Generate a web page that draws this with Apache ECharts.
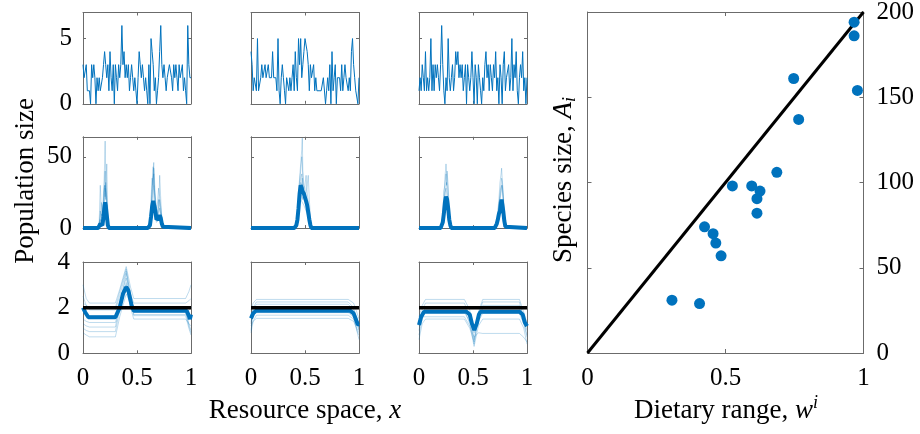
<!DOCTYPE html>
<html><head><meta charset="utf-8">
<script src="https://cdn.jsdelivr.net/npm/echarts@6/dist/echarts.min.js"></script>
<style>html,body{margin:0;padding:0;background:#fff}#c{width:920px;height:434px}</style>
</head><body><div id="c"></div>
<script>
// ---------- Row 1: single noisy population series (x = 0..1, 101 samples) ----------
const xs101 = Array.from({length:101}, (_, i) => i / 100);
const pop1a = [3,2,2,3,1,1,1,0,3,2,3,2,0,2,1,2,1,1,2,3,4,3,2,3,1,4,2,1,3,0,3,2,1,3,2,3,6,3,4,2,3,2,3,1,2,3,2,1,2,1,0,2,4,3,2,3,2,1,2,1,0,3,0,5,4,3,1,2,0,1,2,4,6,3,2,3,2,1,2,2,3,3,2,1,3,2,3,2,1,3,2,2,3,1,2,1,0,6,3,2,2];
const pop1b = [4,3,1,2,2,1,5,1,1,2,3,2,2,3,2,2,3,2,2,2,4,2,2,2,1,5,1,0,2,3,2,1,0,2,2,1,2,1,2,3,1,4,2,1,5,3,5,2,3,4,5,5,4,3,1,3,2,2,3,1,2,1,1,1,1,1,1,2,2,0,1,2,1,3,0,4,1,2,3,0,2,2,2,1,3,1,2,3,2,2,1,2,1,4,5,3,2,1,1,0,2];
const pop1c = [1,2,1,3,2,1,4,1,2,1,2,5,1,3,1,3,2,3,2,1,3,6,3,1,0,2,1,5,2,1,2,3,1,2,4,3,4,2,3,2,3,1,2,3,0,3,2,1,2,4,2,0,3,2,0,3,2,1,0,2,1,3,4,2,3,1,3,2,1,3,2,4,1,2,0,3,2,0,3,4,1,2,2,3,1,2,5,1,3,2,4,1,0,2,3,2,4,1,2,0,2];

// ---------- Row 2: peaked populations (mean + individual runs) ----------
const p1x = [0,0.14,0.15,0.16,0.17,0.18,0.19,0.2,0.205,0.21,0.22,0.23,0.24,0.25,0.6,0.61,0.62,0.63,0.64,0.65,0.655,0.66,0.67,0.68,0.69,0.7,0.71,0.72,0.73,0.74,0.75,1];
const p1mean = [0,0,1,3,3,2,8,16,18,16,9,2,0,0,0,0,2,8,15,19,20,18,12,6,5,7,9,7,3,1,0,0];
const p1runs = [
  [0,0,2,5,10,4,20,45,61,38,15,5,1,0,0,0,3,10,25,40,46,30,15,8,12,20,15,8,4,1,0,0],
  [0,0,4,30,12,6,15,25,30,20,45,10,2,0,0,1,5,20,35,30,42,38,20,10,8,12,37,20,6,2,0,0],
  [0,0,1,8,18,10,12,35,40,28,22,6,1,0,0,0,2,12,30,43,35,25,18,14,18,28,22,12,5,1,0,0],
  [0,0,0,4,6,3,10,20,28,25,12,3,0,0,0,0,1,6,12,25,30,20,10,6,5,10,14,10,3,0,0,0],
  [0,0,2,12,8,5,25,30,22,32,18,4,1,0,0,0,4,15,22,35,38,28,22,12,10,15,20,15,8,2,0,0],
  [0,0,1,6,4,2,6,12,15,12,8,2,0,0,0,0,1,5,10,15,18,15,8,4,4,6,8,5,2,0,0,0]
];
const p2x = [0,0.4,0.41,0.42,0.43,0.44,0.45,0.46,0.47,0.475,0.48,0.49,0.5,0.51,0.52,0.53,0.54,0.55,0.56,0.57,1];
const p2mean = [0,0,0,2,6,14,24,30,28,26,25,24,23,19,16,11,6,2,0,0,0];
const p2runs = [
  [0,0,1,4,12,25,35,45,55,63,40,30,28,20,15,12,8,3,1,0,0],
  [0,0,0,3,8,20,33,40,50,45,35,25,30,37,25,18,12,5,1,0,0],
  [0,0,2,5,10,18,28,35,38,30,28,22,20,25,30,37,20,8,2,0,0],
  [0,0,0,2,5,12,20,25,22,20,22,20,18,15,12,8,5,2,0,0,0],
  [0,0,1,3,7,15,25,32,30,35,30,26,24,20,18,14,10,4,1,0,0],
  [0,0,0,1,4,10,16,20,20,18,17,16,15,12,10,7,4,1,0,0,0]
];
const p3x = [0,0.2,0.21,0.22,0.23,0.24,0.25,0.255,0.26,0.27,0.28,0.29,0.3,0.31,0.7,0.71,0.72,0.73,0.74,0.75,0.76,0.765,0.77,0.78,0.79,0.8,0.81,1];
const p3mean = [0,0,1,4,10,18,22,22,20,14,6,2,0,0,0,1,3,6,10,12,18,20,19,12,5,1,0,0];
const p3runs = [
  [0,0,2,8,20,35,45,40,35,25,10,3,1,0,0,2,5,12,20,32,38,42,35,25,10,3,0,0],
  [0,0,1,5,26,30,38,30,40,30,12,4,0,0,0,1,4,8,15,25,30,35,33,20,8,2,0,0],
  [0,0,1,4,12,22,30,32,28,18,8,2,0,0,0,1,3,8,14,22,28,30,28,18,8,2,0,0],
  [0,0,0,3,8,15,20,18,16,12,5,1,0,0,0,0,2,5,10,15,18,20,16,10,4,1,0,0],
  [0,0,1,6,15,25,28,25,22,20,8,2,0,0,0,1,3,10,18,20,25,28,30,22,10,3,0,0]
];

// ---------- Row 3: flat populations (mean + runs), reference level 2 ----------
const r1mx = [0,0.02,0.05,0.3,0.34,0.37,0.4,0.42,0.45,0.47,0.96,0.98,0.99,1];
const r1mean = [2.0,1.8,1.58,1.58,2.0,2.6,2.9,2.75,2.1,1.86,1.86,1.65,1.5,1.7];
const r1x = [0,0.03,0.06,0.3,0.34,0.4,0.44,0.47,0.95,0.98,1];
const r1runs = [
  [3.0,2.4,2.2,2.2,2.8,3.8,2.9,2.4,2.4,2.7,3.0],
  [2.5,2.1,1.9,1.9,2.5,3.6,2.6,2.2,2.2,2.3,2.4],
  [1.8,1.7,1.65,1.65,2.3,3.3,2.4,2.0,2.0,1.7,1.5],
  [1.5,1.4,1.35,1.35,2.0,3.0,2.1,1.8,1.8,1.3,1.0],
  [1.3,1.2,1.15,1.15,2.1,3.5,2.3,1.65,1.65,1.1,0.8],
  [1.1,1.0,0.95,0.95,1.9,3.1,2.0,1.5,1.5,1.3,1.2],
  [0.9,0.8,0.72,0.72,1.6,2.6,2.2,1.9,1.9,1.2,0.9],
  [2.2,2.1,2.0,2.0,2.7,3.7,2.5,1.7,1.7,1.9,2.0]
];
const r2mx = [0,0.02,0.045,0.92,0.95,0.97,0.99,1];
const r2mean = [1.53,1.75,1.86,1.86,1.75,1.5,1.25,1.27];
const r2x = [0,0.02,0.05,0.9,0.95,0.98,1];
const r2runs = [
  [1.9,2.2,2.36,2.36,2.2,1.8,1.5],
  [1.6,2.0,2.25,2.25,2.0,1.5,1.2],
  [1.3,1.9,2.15,2.15,1.9,1.4,1.0],
  [1.0,1.7,2.05,2.05,1.8,1.0,0.6],
  [0.9,1.4,1.67,1.67,1.5,1.0,0.8],
  [1.2,1.4,1.53,1.53,1.4,1.1,0.9],
  [1.7,1.85,1.95,1.95,1.8,1.4,1.1],
  [1.4,1.65,1.78,1.78,1.6,1.3,1.0]
];
const r3mx = [0,0.02,0.047,0.44,0.47,0.49,0.512,0.535,0.555,0.57,0.93,0.96,0.98,1];
const r3mean = [1.24,1.6,1.82,1.82,1.7,1.3,1.02,1.3,1.7,1.82,1.82,1.7,1.35,1.19];
const r3x = [0,0.03,0.06,0.42,0.47,0.51,0.55,0.59,0.93,0.97,1];
const r3runs = [
  [1.6,2.1,2.36,2.36,1.9,0.6,1.8,2.36,2.36,1.8,1.3],
  [1.2,1.9,2.2,2.2,1.6,0.4,1.7,2.25,2.25,1.5,1.0],
  [1.0,1.7,2.0,2.0,1.5,0.9,1.4,1.75,1.75,1.3,0.7],
  [0.8,1.5,1.9,1.9,1.3,0.3,1.2,1.5,1.5,1.1,0.4],
  [1.4,1.6,1.6,1.6,1.2,0.7,0.9,0.87,0.87,0.7,0.5],
  [0.6,1.3,1.5,1.5,1.1,0.5,1.5,1.95,1.95,1.4,0.8],
  [1.5,1.8,1.8,1.8,1.4,1.0,1.6,2.1,2.1,1.6,1.2]
];
const refX = [0, 1];
const refLevel = [2, 2];

// ---------- Right panel: dietary range vs species size ----------
const dietRange = [0.966,0.966,0.978,0.747,0.765,0.686,0.525,0.595,0.625,0.614,0.614,0.424,0.455,0.465,0.484,0.306,0.406];
const speciesSize = [194,186,154,161,137,106,98,98,95,90.5,82,74,70,64.5,57,31,29];
const diagX = [0, 1];
const diagY = [0, 200];

// tick labels
const xTickLabels = [0, 0.5, 1];
const yTicksRow1 = [0, 5];
const yTicksRow2 = [0, 50];
const yTicksRow3 = [0, 2, 4];
const yTicksRight = [0, 50, 100, 150, 200];

// ---------- layout / style ----------
const FONT = "'Liberation Serif','Times New Roman',serif";
const FS = 25, FSL = 27;
const AX = '#6b6b6b';
const BLUE = '#0072BD';
const LIGHT = 'rgba(0,114,189,0.25)';
const colL = [83, 251, 419], W = 108;
const rowT = [12.5, 136.8, 262], H = 91.3;

const grids = [], xAxes = [], yAxes = [], series = [];
function zip(xa, ya) { return xa.map((x, i) => [x, ya[i]]); }
function addPanel(box, xr, yr, o) {
  const gi = grids.length;
  grids.push({left: box[0], top: box[1], width: box[2], height: box[3], containLabel: false, outerBoundsMode: 'none'});
  const tick = {show: true, inside: true, length: o.tick, lineStyle: {color: AX, width: 1}};
  const line = {show: true, onZero: false, lineStyle: {color: AX, width: 1}};
  const lab = (show, vals) => ({show: show, margin: o.margin, color: '#000', fontFamily: FONT, fontSize: FS,
    showMinLabel: true, showMaxLabel: true,
    formatter: v => (vals.some(t => Math.abs(t - v) < 1e-9) ? String(v) : '')});
  const base = {gridIndex: gi, type: 'value', splitLine: {show: false}, axisLine: line, axisTick: tick};
  xAxes.push(Object.assign({}, base, {position: 'bottom', min: xr[0], max: xr[1], interval: xr[2], axisLabel: lab(o.xl, xTickLabels)}));
  xAxes.push(Object.assign({}, base, {position: 'top', min: xr[0], max: xr[1], interval: xr[2], axisLabel: {show: false}}));
  yAxes.push(Object.assign({}, base, {position: 'left', min: yr[0], max: yr[1], interval: yr[2], axisLabel: lab(o.yl, o.yvals)}));
  yAxes.push(Object.assign({}, base, {position: 'right', min: yr[0], max: yr[1], interval: yr[2], axisLabel: lab(o.yr, o.yvals)}));
  return {x: xAxes.length - 2, y: yAxes.length - 2};
}
function line(ax, data, color, width) {
  series.push({type: 'line', xAxisIndex: ax.x, yAxisIndex: ax.y, data: data, symbol: 'none', showSymbol: false,
    silent: true, clip: true, lineStyle: {color: color, width: width}, z: 2});
}

// Row 1
[pop1a, pop1b, pop1c].forEach((p, c) => {
  const ax = addPanel([colL[c], rowT[0], W, H], [0, 1, 0.5], [0, 7, 5], {tick: 3, margin: 11, xl: false, yl: c === 0, yr: false, yvals: yTicksRow1});
  line(ax, zip(xs101, p), BLUE, 1);
});
// Row 2
[[p1x, p1mean, p1runs], [p2x, p2mean, p2runs], [p3x, p3mean, p3runs]].forEach((d, c) => {
  const ax = addPanel([colL[c], rowT[1], W, H], [0, 1, 0.5], [0, 64, 50], {tick: 3, margin: 11, xl: false, yl: c === 0, yr: false, yvals: yTicksRow2});
  d[2].forEach(r => line(ax, zip(d[0], r), LIGHT, 1));
  line(ax, zip(d[0], d[1]), BLUE, 4);
});
// Row 3
[[r1mx, r1mean, r1x, r1runs], [r2mx, r2mean, r2x, r2runs], [r3mx, r3mean, r3x, r3runs]].forEach((d, c) => {
  const ax = addPanel([colL[c], rowT[2], W, H], [0, 1, 0.5], [0, 4, 2], {tick: 3, margin: 13, xl: true, yl: c === 0, yr: false, yvals: yTicksRow3});
  d[3].forEach(r => line(ax, zip(d[2], r), LIGHT, 1));
  line(ax, zip(d[0], d[1]), BLUE, 4);
  line(ax, zip(refX, refLevel), '#000', 3.5);
});
// Right scatter panel
const axS = addPanel([587.5, 12, 276, 341], [0, 1, 0.5], [0, 200, 50], {tick: 4, margin: 13, xl: true, yl: false, yr: true, yvals: yTicksRight});
line(axS, zip(diagX, diagY), '#000', 3);
series.push({type: 'scatter', xAxisIndex: axS.x, yAxisIndex: axS.y, data: zip(dietRange, speciesSize),
  symbol: 'circle', symbolSize: 11, itemStyle: {color: BLUE, opacity: 1}, silent: true, z: 3});

const txt = (x, y, rot, text, rich) => ({type: 'text', x: x, y: y, rotation: rot, silent: true,
  style: {text: text, fill: '#000', fontFamily: FONT, fontSize: FSL, align: 'center', verticalAlign: 'middle',
    textAlign: 'center', textVerticalAlign: 'middle', rich: rich}});
const R = {
  n: {fontFamily: FONT, fontSize: FSL, fill: '#000'},
  i: {fontFamily: FONT, fontSize: FSL, fontStyle: 'italic', fill: '#000'},
  sup: {fontFamily: FONT, fontSize: 18, fontStyle: 'italic', fill: '#000', padding: [0, 0, 15, 0]},
  sub: {fontFamily: FONT, fontSize: 18, fontStyle: 'italic', fill: '#000', padding: [13, 0, 0, 0]}
};

const chart = echarts.init(document.getElementById('c'), null, {renderer: 'canvas'});
chart.setOption({
  animation: false,
  backgroundColor: '#fff',
  grid: grids, xAxis: xAxes, yAxis: yAxes, series: series,
  graphic: [
    txt(26, 181, Math.PI / 2, '{n|Population size}', R),
    txt(305, 411, 0, '{n|Resource space, }{i|x}', R),
    txt(726, 411, 0, '{n|Dietary range, }{i|w}{sup|i}', R),
    txt(564, 180, Math.PI / 2, '{n|Species size, }{i|A}{sub|i}', R)
  ]
});
</script>
</body></html>
